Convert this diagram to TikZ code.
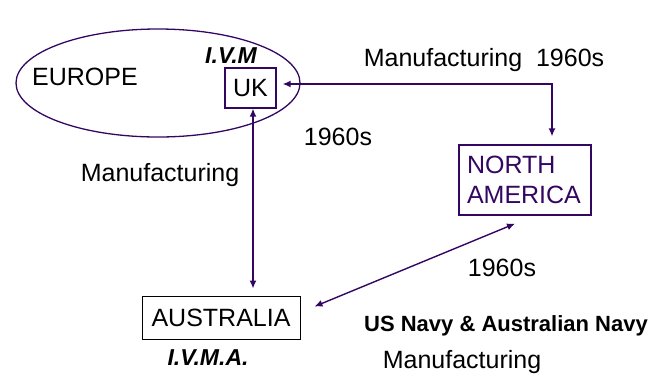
\documentclass[tikz,border=0pt]{standalone}
\usepackage{fontspec}
\setmainfont{Liberation Sans}
\usetikzlibrary{arrows.meta,calc}
\definecolor{purp}{HTML}{330662}
\begin{document}
\begin{tikzpicture}[x=1pt,y=-1pt,
  txt/.style={font=\fontsize{25}{30}\selectfont, inner sep=0pt},
  btxt/.style={font=\fontsize{22}{26}\selectfont\bfseries, inner sep=0pt},
  bitxt/.style={font=\fontsize{23}{27}\selectfont\bfseries\itshape, inner sep=0pt},
  boxp/.style={draw=purp, line width=1.3pt, font=\fontsize{25}{30}\selectfont, inner sep=0pt},
  boxk/.style={draw=black, line width=1pt, font=\fontsize{25}{30}\selectfont, inner sep=0pt},
  arr/.style={draw=purp, line width=1.4pt, {Latex[length=8pt,width=7pt]}-{Latex[length=8pt,width=7pt]}}
]
\useasboundingbox (0,0) rectangle (658,373);
\draw[purp, line width=1.3pt] (158,83) ellipse [x radius=142, y radius=54];
\node[txt] (europe) at (85,77) {EUROPE};
\node[bitxt] (ivm) at (231,56) {I.V.M};
\node[boxp, minimum width=51pt, minimum height=40pt] (uk) at (250.5,88) {UK};
\node[boxp, text=purp, minimum width=132pt, minimum height=70pt, align=left, text width=116pt] (na) at (525,180) {NORTH\\AMERICA};
\node[boxk, minimum width=158pt, minimum height=43pt] (aus) at (221,317.5) {AUSTRALIA};
\node[bitxt] (ivma) at (208,358) {I.V.M.A.};
\node[txt] (m1) at (484,60) {Manufacturing\ \ 1960s};
\node[txt] (y1) at (338,137) {1960s};
\node[txt] (m2) at (160,175) {Manufacturing};
\node[txt] (y2) at (502,268) {1960s};
\node[btxt] (navy) at (506,326) {US Navy \& Australian Navy};
\node[txt] (m3) at (462,362) {Manufacturing};
\coordinate (c1) at ([yshift=4pt,xshift=6pt]uk.east);
\coordinate (c2) at ([xshift=27pt,yshift=8pt]na.north);
\draw[arr] (c1) -| (c2);
\coordinate (c3) at ([xshift=2.5pt]uk.south);
\coordinate (c4) at ([yshift=7pt]c3 |- aus.north);
\draw[arr] (c3) -- (c4);
\coordinate (c5) at ([xshift=14pt,yshift=11pt]aus.east);
\coordinate (c6) at ([xshift=-10pt,yshift=-8pt]na.south);
\draw[arr] (c5) -- (c6);
\end{tikzpicture}
\end{document}
